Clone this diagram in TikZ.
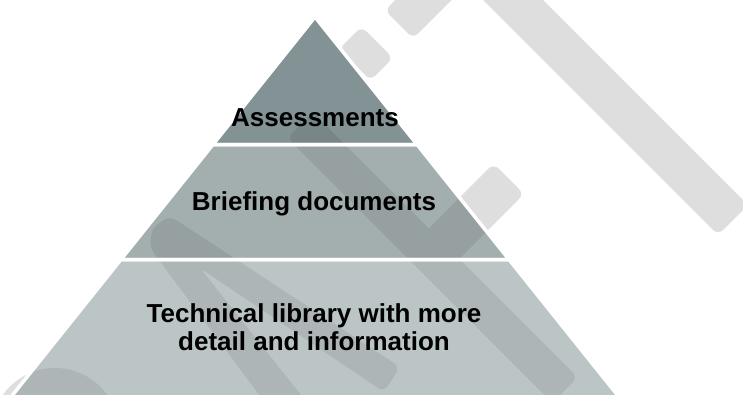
\documentclass[tikz,border=0pt]{standalone}
\usepackage{fontspec}
\setmainfont{Liberation Sans}
\definecolor{tierone}{HTML}{839294}
\definecolor{tiertwo}{HTML}{A3AEAF}
\definecolor{tierthree}{HTML}{BCC5C6}
\newcommand{\wmshapes}{%
\fill [wmark] (508,-35) -- (748,205) -- (718,235) -- (478,-5) -- cycle;
\fill [wmark] (384.9,10.4) -- (441.5,-46.2) -- (469.7,-18) -- (413.1,38.6) -- cycle;
\fill [wmark] (361.5,26.5) -- (393,58) -- (370.5,80.5) -- (339,49) -- cycle;
\fill [wmark] (312.7,112.3) -- (577.7,377.3) -- (552.3,402.7) -- (287.3,137.7) -- cycle;
\fill [wmark] (493.5,163.5) -- (524,194) -- (446.5,271.5) -- (416,241) -- cycle;
\fill [wmark] (263,400) -- (150,248) -- (152,228) -- (170,216) -- (400,367) -- (384,392) -- (200,268) -- (305,400) -- cycle;
\fill [black] (55,432) circle (64);}
\begin{document}
\begin{tikzpicture}[x=1pt,y=-1pt]
\tikzstyle{every node}+=[inner sep=0pt, font=\fontsize{26}{28}\selectfont\bfseries, align=center]
\tikzstyle{tierline}=[white, line width=3.5pt, line join=miter]
\tikzstyle{wmark}=[black, rounded corners=7pt]
\useasboundingbox (0,0) rectangle (743,394);
\clip (0,0) rectangle (743,394);
\coordinate (apex) at (315,17);
\coordinate (al) at (213,144.5);
\coordinate (ar) at (417,144.5);
\coordinate (bl) at (121,259.5);
\coordinate (br) at (509,259.5);
\coordinate (cl) at (8.6,400);
\coordinate (cr) at (621.4,400);
\begin{scope}[transparency group, opacity=0.13]
\wmshapes
\end{scope}
\fill [tierone] (apex) -- (ar) -- (al) -- cycle;
\fill [tiertwo] (al) -- (ar) -- (br) -- (bl) -- cycle;
\fill [tierthree] (bl) -- (br) -- (cr) -- (cl) -- cycle;
\begin{scope}
\clip (apex) -- (cr) -- (cl) -- cycle;
\begin{scope}[transparency group, opacity=0.08]
\wmshapes
\end{scope}
\end{scope}
\draw [tierline] (apex) -- (ar) -- (al) -- cycle;
\draw [tierline] (al) -- (ar) -- (br) -- (bl) -- cycle;
\draw [tierline] (bl) -- (br) -- (cr) -- (cl) -- cycle;
\node (assess) [anchor=base] at (315,126) {Assessments};
\node (brief) [anchor=base] at (314,210) {Briefing documents};
\node (techlib) [anchor=base] at (314,350) {Technical library with more\\detail and information};
\end{tikzpicture}
\end{document}
